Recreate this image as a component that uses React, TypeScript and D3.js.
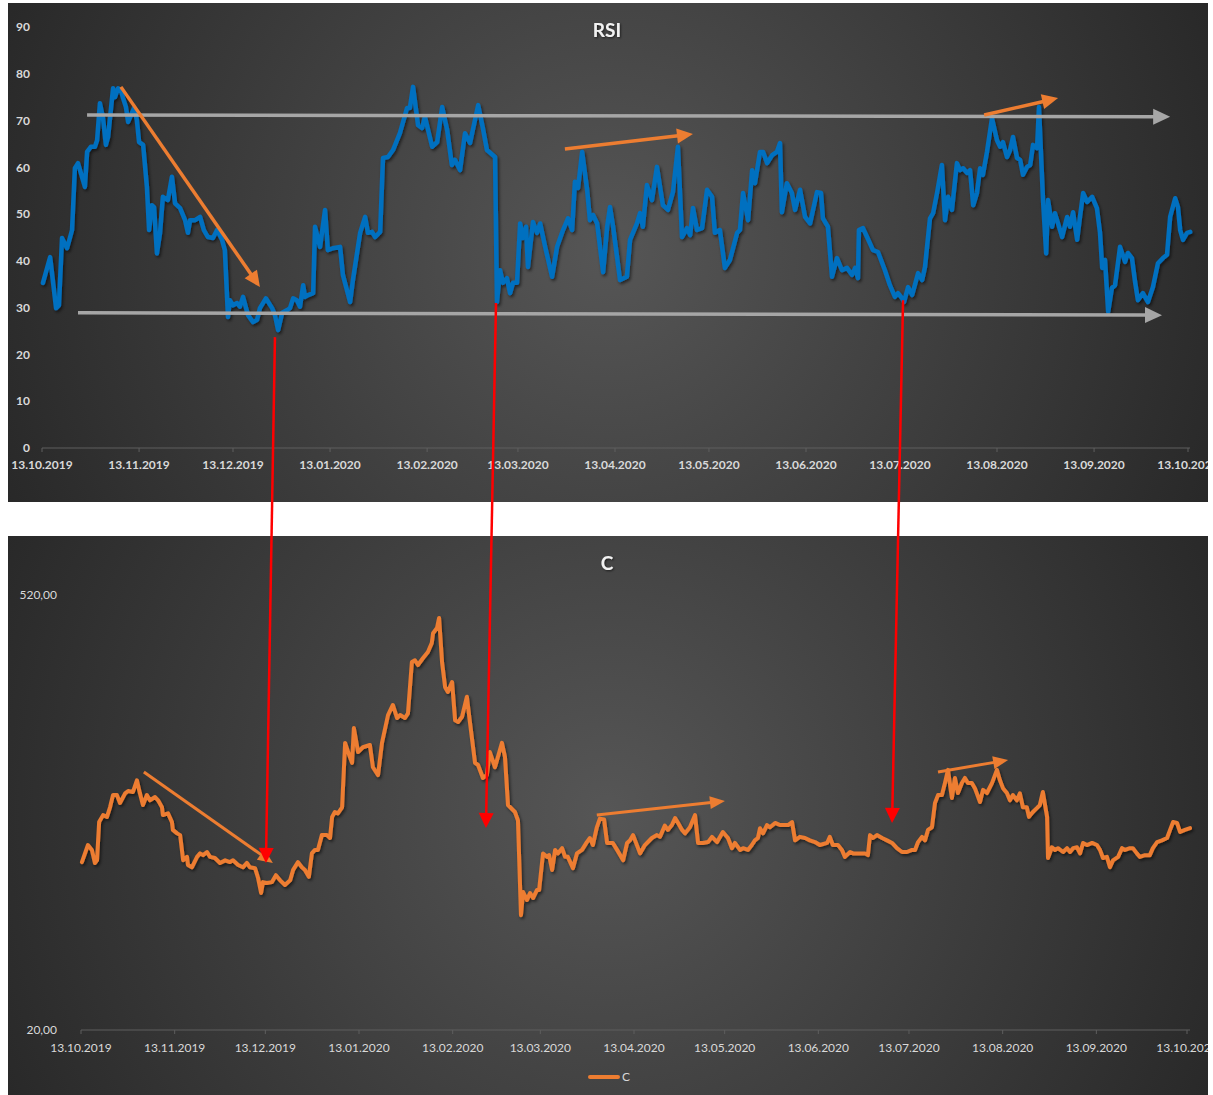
import React from "react";
import * as d3 from "d3";

// ---------- data ----------
const tickLabels = [
  "13.10.2019", "13.11.2019", "13.12.2019", "13.01.2020", "13.02.2020", "13.03.2020",
  "13.04.2020", "13.05.2020", "13.06.2020", "13.07.2020", "13.08.2020", "13.09.2020", "13.10.2020",
];
const rsiTickValues = [0, 10, 20, 30, 40, 50, 60, 70, 80, 90];
const priceTickValues = [20, 520];

// [days since 13.10.2019, RSI]
const rsiSeries: [number, number][] = [
  [0.3, 35.3], [2.6, 40.8], [4.5, 29.9], [5.4, 30.5], [6.4, 44.9], [8.0, 42.7], [9.6, 46.6], [10.5, 59.8],
  [11.5, 60.9], [13.7, 55.8], [14.4, 63.3], [15.6, 64.4], [16.9, 64.4], [17.6, 65.8], [18.5, 73.7], [19.5, 70.5],
  [20.4, 64.8], [21.1, 66.5], [22.7, 76.9], [23.3, 75], [24.3, 76.9], [25.2, 76.5], [25.9, 74.8], [26.8, 72.9],
  [27.5, 69.7], [28.7, 71.6], [29.4, 72.7], [30.3, 70.1], [31.0, 65.4], [32.3, 64.8], [33.5, 55.8], [34.2, 46.6],
  [35.1, 51.9], [35.8, 51.5], [36.7, 41.6], [37.7, 46], [38.6, 53.7], [40.2, 53], [41.5, 58], [42.5, 52.3],
  [44.1, 51.3], [45.7, 48.7], [46.6, 46], [47.3, 48.7], [48.9, 48.7], [50.5, 49.4], [51.7, 46.6], [53.0, 45.1],
  [54.6, 44.9], [55.9, 46.6], [57.5, 44.5], [58.4, 42.3], [59.4, 28], [60.0, 31.6], [61.0, 30.5], [62.3, 31],
  [63.2, 30.2], [64.2, 32.3], [65.8, 28.4], [67.4, 26.9], [68.7, 27.4], [69.6, 29.9], [71.5, 32], [73.5, 29.9],
  [74.4, 28.4], [75.4, 25.2], [76.7, 28.9], [78.3, 29.5], [79.2, 29.9], [80.2, 32], [81.4, 31.6], [82.4, 30.2],
  [83.4, 34.8], [84.0, 32.3], [85.0, 32.7], [86.6, 33.1], [87.2, 47.3], [88.8, 43], [90.4, 50.9], [91.3, 42.3],
  [92.9, 42.7], [95.2, 43], [96.1, 37], [98.4, 31.2], [99.3, 35.9], [101.6, 46], [103.2, 49.4], [104.1, 46],
  [105.4, 46.2], [106.4, 45.1], [108.0, 46.2], [108.9, 62], [110.5, 62.2], [112.1, 63.7], [114.3, 67.3], [116.6, 72.7],
  [117.5, 72.7], [118.5, 77.2], [120.1, 69], [121.4, 68.4], [122.3, 70.8], [124.6, 64.4], [126.2, 65.4], [127.8, 72.9],
  [129.4, 68], [130.9, 60.5], [131.9, 61.6], [133.5, 59.4], [135.1, 67.3], [136.7, 65.2], [139.3, 73.3], [140.8, 68.4],
  [142.1, 63.7], [144.7, 62.2], [145.3, 31.2], [146.3, 38], [147.2, 35.3], [148.5, 36.3], [149.5, 33.1], [150.4, 35.3],
  [151.7, 35.3], [152.7, 48], [153.6, 44.9], [154.6, 47.3], [155.2, 38.7], [156.8, 48.3], [158.1, 46], [159.1, 48],
  [160.7, 43], [162.9, 36.6], [164.5, 43], [166.4, 46.6], [168.0, 49.1], [169.3, 46.6], [170.2, 56.9], [171.2, 55.6],
  [172.5, 63.3], [174.1, 55.2], [175.0, 48.7], [176.0, 49.8], [177.3, 48], [179.2, 37.6], [180.5, 47.3], [181.4, 51.5],
  [182.4, 47.3], [184.6, 35.9], [186.8, 36.6], [187.8, 44.5], [190.0, 48], [191.0, 50.2], [191.9, 47.3], [193.2, 56.2],
  [194.8, 53], [196.4, 60.1], [198.3, 51.9], [199.9, 50.9], [201.5, 54.7], [203.1, 64.4], [204.4, 45.1], [206.0, 47],
  [207.0, 45.5], [207.9, 51.3], [209.2, 46.6], [210.8, 47], [212.4, 55.2], [214.0, 53.7], [214.9, 46], [216.5, 46.6],
  [218.1, 38.5], [219.7, 40.2], [222.0, 46], [222.9, 46.6], [223.9, 54.5], [225.5, 48.7], [226.8, 59.4], [227.7, 56.6],
  [229.3, 63.3], [230.3, 63.3], [231.6, 60.9], [233.2, 62.6], [234.7, 63.3], [235.7, 65.2], [236.3, 50.4], [237.9, 56.6],
  [239.5, 54.5], [240.5, 50.9], [242.1, 55.2], [243.7, 49.4], [245.3, 48], [247.5, 54.7], [248.8, 54.5], [249.4, 49.1],
  [251.0, 47.3], [252.3, 36.6], [253.9, 40.6], [255.5, 38], [257.1, 38.5], [258.7, 37], [259.7, 38.5], [260.6, 36.3],
  [260.9, 46.6], [262.2, 47], [263.5, 45.1], [265.4, 42.3], [267.0, 41.9], [269.2, 38], [270.8, 34.8], [272.4, 32.3],
  [273.4, 33.1], [274.7, 32], [275.3, 31.2], [276.6, 34.4], [277.9, 32.7], [279.8, 37.4], [281.1, 35.9], [282.0, 38.7],
  [283.6, 49.1], [284.6, 50.2], [285.9, 54.7], [287.4, 60.5], [288.4, 48.7], [289.4, 53.7], [290.6, 50.9], [292.2, 60.9],
  [293.2, 59.4], [294.2, 59.8], [295.4, 58.8], [296.4, 59.4], [297.4, 51.9], [298.6, 54.5], [299.6, 59.8], [300.5, 58.4],
  [301.8, 63.3], [303.4, 70.5], [305.0, 65.8], [306.0, 64.4], [306.9, 65.4], [308.2, 62.2], [309.2, 63.7], [310.1, 66.5],
  [311.4, 62], [312.4, 61.6], [313.3, 58.4], [314.6, 60.1], [315.6, 60.5], [316.5, 64.8], [317.8, 64.1], [318.4, 72.9],
  [319.7, 53], [320.7, 41.6], [321.3, 53], [322.6, 47.3], [323.5, 50.2], [324.5, 48], [325.8, 45.1], [327.4, 49.4],
  [328.3, 47.3], [329.3, 50.4], [330.6, 44.5], [331.5, 49.4], [332.5, 54.5], [333.8, 52.6], [335.4, 53.7], [336.9, 51.3],
  [337.9, 46], [338.6, 38.5], [339.5, 40.2], [340.5, 29.1], [341.7, 34.2], [342.7, 34.8], [344.3, 43], [345.9, 39.8],
  [346.8, 41.7], [348.1, 40.6], [349.1, 35.5], [350.0, 31.6], [351.6, 33.1], [353.2, 31.2], [354.8, 34.4], [356.4, 39.5],
  [358.0, 40.6], [359.3, 41.3], [360.3, 49.4], [361.9, 53.4], [362.8, 51.5], [363.5, 46.6], [364.4, 44.5], [365.7, 46],
  [366.7, 46.2],
];

// [days since 13.10.2019, C]
const priceSeries: [number, number][] = [
  [0.3, 213], [2.3, 232.6], [3.6, 227], [4.6, 212], [5.3, 215], [6.0, 259], [7.3, 267], [8.6, 265],
  [9.6, 276], [10.6, 290], [11.9, 290], [12.9, 281], [14.6, 292], [15.6, 294.7], [17.2, 293.6], [18.5, 307],
  [19.5, 292], [20.5, 278.6], [21.8, 290], [22.8, 284], [24.5, 287.8], [25.5, 284], [26.8, 276], [27.1, 267],
  [28.8, 269], [30.1, 259], [30.4, 250], [31.8, 246], [32.8, 244], [33.8, 215], [35.1, 219], [35.4, 209.7],
  [36.7, 207], [38.4, 219], [39.4, 223], [40.4, 221], [41.7, 224.6], [42.7, 219], [44.3, 217.7], [46.0, 212],
  [47.7, 215], [49.3, 213], [50.3, 215], [52.0, 209.7], [53.6, 207], [54.9, 212], [55.9, 207], [57.6, 206],
  [58.6, 194.7], [59.6, 177.5], [60.2, 190], [61.5, 189], [63.2, 190], [64.5, 198], [65.9, 192], [67.5, 186.7],
  [69.2, 192], [70.2, 204], [71.8, 213], [73.1, 207], [74.1, 204], [75.4, 196], [76.4, 223], [77.4, 227],
  [78.4, 227], [79.7, 244], [81.4, 244], [82.4, 240.7], [83.1, 265], [84.0, 270.6], [85.0, 269], [86.4, 276],
  [87.4, 350], [88.4, 339.5], [89.7, 327], [90.3, 367], [91.7, 339.5], [93.3, 345], [95.6, 347.6], [96.6, 322],
  [98.3, 313], [99.6, 350], [101.6, 382], [103.2, 393.6], [104.6, 378.6], [105.6, 382], [107.2, 378.6], [108.2, 384],
  [109.5, 443], [110.5, 445], [111.5, 439.5], [113.2, 447.6], [114.8, 454.5], [116.1, 465], [116.5, 476], [117.8, 482],
  [118.5, 493.6], [119.5, 442], [120.5, 414], [121.4, 408.5], [122.8, 420], [123.8, 376], [124.8, 374], [126.1, 380],
  [127.7, 403], [128.7, 374], [130.4, 327], [131.4, 324.6], [133.0, 309.7], [134.3, 313], [135.3, 339.5], [137.0, 322],
  [139.3, 350], [140.3, 334], [141.3, 278.6], [143.6, 270.6], [144.6, 261], [145.6, 152], [146.3, 178.6], [147.6, 169.4],
  [148.6, 177.5], [149.6, 171.7], [150.9, 181], [151.6, 181], [152.9, 223], [154.2, 219], [154.9, 221], [155.9, 204],
  [156.9, 227], [157.8, 223], [159.2, 229], [160.2, 219], [161.1, 219], [162.8, 206], [164.1, 223], [165.8, 227],
  [167.4, 236], [168.4, 240.7], [169.4, 232.6], [170.7, 253], [171.7, 263], [173.1, 262], [174.1, 235], [176.0, 235],
  [177.4, 227], [179.4, 215], [180.7, 235], [181.7, 238], [182.7, 244], [185.0, 223], [186.6, 232.6], [188.9, 240.7],
  [190.6, 244], [191.6, 242], [193.2, 255], [194.2, 250], [195.6, 256], [196.6, 263.7], [197.6, 258], [198.9, 250],
  [199.9, 246], [201.5, 253], [203.2, 267], [204.2, 235], [205.8, 235], [207.5, 236], [208.8, 242], [210.5, 236],
  [212.4, 247.6], [214.1, 240.7], [215.4, 229], [216.4, 235], [218.1, 227], [219.1, 229], [220.7, 227], [222.0, 232.6],
  [223.0, 238], [224.0, 240.7], [224.7, 252], [225.7, 246], [227.0, 255.6], [228.0, 253], [229.7, 258], [231.3, 255.6],
  [234.0, 255.6], [235.3, 259], [236.3, 238], [237.9, 242], [239.6, 240.7], [241.2, 238], [242.9, 236], [244.5, 232.6],
  [246.9, 235], [247.8, 242], [248.8, 232.6], [250.5, 232.6], [251.8, 227], [252.8, 219], [254.5, 224.6], [255.5, 223],
  [257.8, 223], [259.4, 223], [260.4, 221], [261.1, 244], [262.1, 240.7], [263.4, 244], [265.1, 240.7], [266.7, 238],
  [268.4, 235], [270.0, 229], [271.7, 224.6], [273.3, 224.6], [275.0, 227], [276.0, 227], [277.0, 236], [278.3, 242],
  [279.3, 238], [280.3, 250], [281.6, 253], [282.6, 281], [283.6, 290], [284.9, 290], [285.9, 304], [286.9, 319],
  [288.2, 286.7], [289.2, 309.7], [290.2, 292.4], [291.5, 304], [292.5, 309.7], [293.5, 304], [294.8, 304], [295.8, 298],
  [297.5, 282], [298.5, 296], [299.8, 292.4], [301.5, 304], [303.1, 319], [304.1, 307], [305.1, 298], [306.4, 292.4],
  [307.4, 284], [308.4, 290], [309.7, 284], [310.7, 292], [311.7, 276], [313.0, 276], [313.7, 265], [315.0, 270.6],
  [316.3, 275], [317.3, 278.6], [318.3, 293.6], [319.7, 265], [320.0, 217.7], [321.3, 230], [322.3, 227], [323.3, 229],
  [325.0, 224.6], [326.3, 229], [327.3, 224.6], [328.3, 229], [329.6, 230], [330.6, 223], [331.6, 235], [332.9, 232.6],
  [334.6, 235], [336.2, 232.6], [337.2, 227], [338.2, 217.7], [339.5, 219], [340.5, 207], [341.5, 215], [343.2, 219],
  [344.5, 229], [345.5, 227], [347.1, 229], [348.1, 229], [349.4, 223], [350.4, 219], [352.1, 221], [353.7, 221],
  [354.7, 229], [356.1, 236], [357.7, 238], [359.4, 240.7], [360.4, 250], [361.4, 259], [362.7, 258], [363.7, 247.6],
  [365.3, 250], [367.0, 252],
];

// annotations, in [day, value] of their own chart
const rsiGuides = [
  { from: [14.4, 71.2], to: [360.3, 70.8] },
  { from: [11.5, 28.9], to: [357.7, 28.4] },
];
const rsiTrends = [
  { from: [25.2, 77.2], to: [69.6, 34.4] },
  { from: [167.0, 63.9], to: [207.9, 67.1] },
  { from: [300.9, 71.2], to: [324.5, 74.8] },
];
const priceTrends = [
  { from: [20.8, 316.6], to: [63.5, 212] },
  { from: [170.7, 267], to: [213.1, 283.2] },
  { from: [283.6, 316.6], to: [306.8, 330.3] },
];
const links = [
  { rsi: [74.4, 23.7], price: [61.2, 212] },
  { rsi: [145.0, 31.0], price: [134.0, 252.2] },
  { rsi: [275.0, 31.6], price: [268.4, 258] },
];

// ---------- helpers ----------
const parse = d3.timeParse("%d.%m.%Y");
const startDate = parse(tickLabels[0]) as Date;
const endDate = parse(tickLabels[tickLabels.length - 1]) as Date;
const dayToDate = (d: number) => new Date(startDate.getTime() + d * 86400000);
const tickDates = tickLabels.map((t) => parse(t) as Date);

const FONT = "Lato, 'Open Sans', sans-serif";

function Arrow(props: {
  x1: number; y1: number; x2: number; y2: number;
  color: string; width: number; headLen: number; headWid: number;
}) {
  const { x1, y1, x2, y2, color, width, headLen, headWid } = props;
  const L = Math.hypot(x2 - x1, y2 - y1);
  const ux = (x2 - x1) / L, uy = (y2 - y1) / L;
  const bx = x2 - ux * headLen, by = y2 - uy * headLen;
  const px = -uy, py = ux;
  const pts = [
    [x2, y2],
    [bx + (px * headWid) / 2, by + (py * headWid) / 2],
    [bx - (px * headWid) / 2, by - (py * headWid) / 2],
  ].map((p) => p.join(",")).join(" ");
  return (
    <g>
      <line x1={x1} y1={y1} x2={bx + ux} y2={by + uy} stroke={color} strokeWidth={width} />
      <polygon points={pts} fill={color} />
    </g>
  );
}

export default function App() {
  const W = 1213, H = 1095;
  const top = { x: 8, y: 3, w: 1200, h: 499 };
  const bot = { x: 8, y: 536, w: 1200, h: 559 };

  const xTop = d3.scaleTime().domain([startDate, endDate]).range([42, 1188]);
  const yTop = d3.scaleLinear().domain([0, 90]).range([448, 27]);
  const xBot = d3.scaleTime().domain([startDate, endDate]).range([81, 1187]);
  const yBot = d3.scaleLinear().domain([20, 520]).range([1030, 595]);

  const rsiLine = d3.line<[number, number]>()
    .x((p) => xTop(dayToDate(p[0])))
    .y((p) => yTop(p[1]));
  const priceLine = d3.line<[number, number]>()
    .x((p) => xBot(dayToDate(p[0])))
    .y((p) => yBot(p[1]));

  const tp = (p: number[]) => [xTop(dayToDate(p[0])), yTop(p[1])];
  const bp = (p: number[]) => [xBot(dayToDate(p[0])), yBot(p[1])];

  const axisColor = "#5e5e5e";
  const labelColor = "#d9d9d9";

  return (
    <div style={{ position: "absolute", left: 0, top: 0, width: W, height: H, background: "#fff" }}>
      <svg width={W} height={H} viewBox={`0 0 ${W} ${H}`} style={{ display: "block" }}>
        <defs>
          <radialGradient id="bgTop" gradientUnits="userSpaceOnUse" cx={608} cy={250} r={700}>
            <stop offset="0" stopColor="#565656" />
            <stop offset="1" stopColor="#252525" />
          </radialGradient>
          <radialGradient id="bgBot" gradientUnits="userSpaceOnUse" cx={608} cy={812} r={720}>
            <stop offset="0" stopColor="#565656" />
            <stop offset="1" stopColor="#252525" />
          </radialGradient>
          <clipPath id="clipTop"><rect x={top.x} y={top.y} width={top.w} height={top.h} /></clipPath>
          <clipPath id="clipBot"><rect x={bot.x} y={bot.y} width={bot.w} height={bot.h} /></clipPath>
          <filter id="shadow" x="-5%" y="-10%" width="110%" height="120%">
            <feDropShadow dx="1.5" dy="2" stdDeviation="1.5" floodColor="#000" floodOpacity="0.55" />
          </filter>
          <filter id="tshadow" x="-20%" y="-20%" width="140%" height="140%">
            <feDropShadow dx="1" dy="1" stdDeviation="1" floodColor="#000" floodOpacity="0.6" />
          </filter>
        </defs>

        {/* ---------- RSI panel ---------- */}
        <rect x={top.x} y={top.y} width={top.w} height={top.h} fill="url(#bgTop)" />
        <g clipPath="url(#clipTop)" fontFamily={FONT}>
          <text x={607} y={37} textAnchor="middle" fill="#f2f2f2" fontSize={19} fontWeight="bold" filter="url(#tshadow)">RSI</text>
          {rsiTickValues.map((v) => (
            <text key={v} x={30} y={yTop(v)} dy="0.35em" textAnchor="end" fill={labelColor} fontSize={12} fontWeight="bold">{v}</text>
          ))}
          <line x1={42} x2={1190} y1={yTop(0)} y2={yTop(0)} stroke={axisColor} strokeWidth={1} />
          {tickDates.map((d, i) => (
            <g key={i}>
              <line x1={xTop(d)} x2={xTop(d)} y1={yTop(0)} y2={yTop(0) + 4} stroke={axisColor} />
              <text x={xTop(d)} y={469} textAnchor="middle" fill={labelColor} fontSize={12} fontWeight="bold">{tickLabels[i]}</text>
            </g>
          ))}
          <path d={rsiLine(rsiSeries) || ""} fill="none" stroke="#0070c0" strokeWidth={4.5}
            strokeLinejoin="round" strokeLinecap="round" filter="url(#shadow)" />
          {rsiGuides.map((g, i) => {
            const a = tp(g.from), b = tp(g.to);
            return <Arrow key={i} x1={a[0]} y1={a[1]} x2={b[0]} y2={b[1]} color="#a6a6a6" width={3.5} headLen={17} headWid={16} />;
          })}
          {rsiTrends.map((g, i) => {
            const a = tp(g.from), b = tp(g.to);
            return <Arrow key={i} x1={a[0]} y1={a[1]} x2={b[0]} y2={b[1]} color="#ed7d31" width={3.5} headLen={16} headWid={15} />;
          })}
        </g>

        {/* ---------- C panel ---------- */}
        <rect x={bot.x} y={bot.y} width={bot.w} height={bot.h} fill="url(#bgBot)" />
        <g clipPath="url(#clipBot)" fontFamily={FONT}>
          <text x={607} y={570} textAnchor="middle" fill="#f2f2f2" fontSize={19} fontWeight="bold" filter="url(#tshadow)">C</text>
          {priceTickValues.map((v) => (
            <text key={v} x={57} y={yBot(v)} dy="0.35em" textAnchor="end" fill={labelColor} fontSize={12}>
              {v.toFixed(2).replace(".", ",")}
            </text>
          ))}
          <line x1={81} x2={1190} y1={yBot(20)} y2={yBot(20)} stroke={axisColor} strokeWidth={1} />
          {tickDates.map((d, i) => (
            <g key={i}>
              <line x1={xBot(d)} x2={xBot(d)} y1={yBot(20)} y2={yBot(20) + 4} stroke={axisColor} />
              <text x={xBot(d)} y={1052} textAnchor="middle" fill={labelColor} fontSize={12}>{tickLabels[i]}</text>
            </g>
          ))}
          <path d={priceLine(priceSeries) || ""} fill="none" stroke="#ed7d31" strokeWidth={4}
            strokeLinejoin="round" strokeLinecap="round" filter="url(#shadow)" />
          {priceTrends.map((g, i) => {
            const a = bp(g.from), b = bp(g.to);
            return <Arrow key={i} x1={a[0]} y1={a[1]} x2={b[0]} y2={b[1]} color="#ed7d31" width={3} headLen={15} headWid={13} />;
          })}
          <line x1={590} x2={618} y1={1077} y2={1077} stroke="#ed7d31" strokeWidth={4} strokeLinecap="round" />
          <text x={622} y={1081} fill={labelColor} fontSize={12}>C</text>
        </g>

        {/* ---------- links across both panels ---------- */}
        {links.map((l, i) => {
          const a = tp(l.rsi), b = bp(l.price);
          return <Arrow key={i} x1={a[0]} y1={a[1]} x2={b[0]} y2={b[1]} color="#ff0000" width={2.5} headLen={15} headWid={15} />;
        })}
      </svg>
    </div>
  );
}
